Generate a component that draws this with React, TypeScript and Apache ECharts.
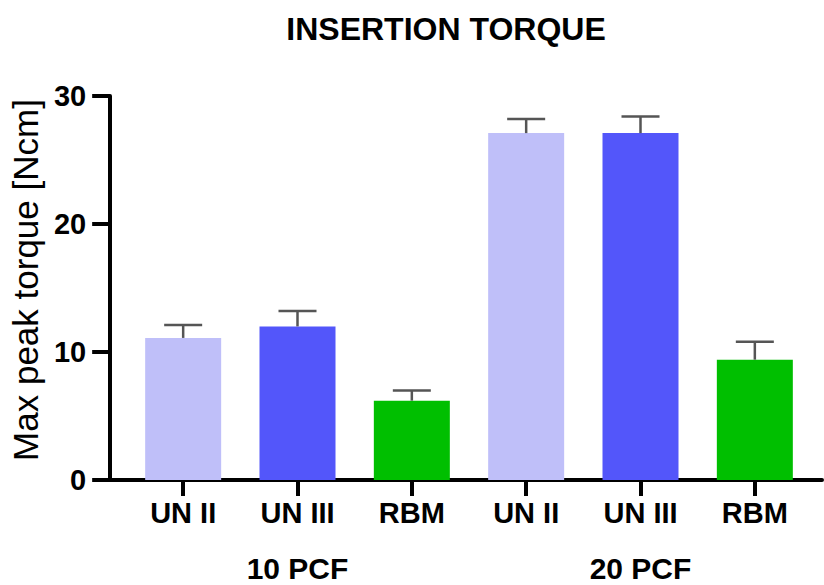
import React, { useEffect, useRef } from "react";
import * as echarts from "echarts";

const categories = ["UN II", "UN III", "RBM", "UN II", "UN III", "RBM"];
const groupLabels = ["", "10 PCF", "", "", "20 PCF", ""];
const means = [11.1, 12.0, 6.2, 27.1, 27.1, 9.4];
const errors = [1.0, 1.2, 0.8, 1.1, 1.3, 1.4];
const yTicks = { min: 0, max: 30, interval: 10 };

const palette = ["#BFBFF9", "#5356FA", "#00BF00", "#BFBFF9", "#5356FA", "#00BF00"];
const FONT = "'Liberation Sans', Arial, Helvetica, sans-serif";

export default function App() {
  const ref = useRef<HTMLDivElement>(null);
  useEffect(() => {
    if (!ref.current) return;
    const chart = echarts.init(ref.current, null, { renderer: "svg" });
    const option: any = {
      animation: false,
      backgroundColor: "#ffffff",
      title: {
        text: "INSERTION TORQUE",
        left: 446,
        top: 13,
        textAlign: "center",
        padding: 0,
        textStyle: { fontFamily: FONT, fontWeight: "bold", fontSize: 32, color: "#000" },
      },
      grid: [
        { left: 126, right: 12, top: 96, bottom: 105 },
        { left: 108, right: 2, top: 96, bottom: 105 },
      ],
      xAxis: [
        {
          type: "category",
          gridIndex: 0,
          data: categories,
          axisLine: { show: false },
          axisTick: { show: true, alignWithLabel: true, length: 16, lineStyle: { color: "#000", width: 4 } },
          axisLabel: {
            interval: 0,
            margin: 18,
            fontFamily: FONT,
            fontWeight: "bold",
            fontSize: 29,
            color: "#000",
          },
        },
        {
          type: "category",
          gridIndex: 0,
          position: "bottom",
          data: groupLabels,
          axisLine: { show: false },
          axisTick: { show: false },
          axisLabel: {
            interval: 0,
            margin: 73,
            fontFamily: FONT,
            fontWeight: "bold",
            fontSize: 30,
            lineHeight: 30,
            color: "#000",
          },
        },
        {
          type: "value",
          gridIndex: 1,
          min: 0,
          max: 1,
          axisLine: { show: true, onZero: false, lineStyle: { color: "#000", width: 4 } },
          axisTick: { show: false },
          axisLabel: { show: false },
          splitLine: { show: false },
        },
      ],
      yAxis: [
        {
          type: "value",
          gridIndex: 0,
          min: yTicks.min,
          max: yTicks.max,
          interval: yTicks.interval,
          show: false,
        },
        {
          type: "value",
          gridIndex: 1,
          min: yTicks.min,
          max: yTicks.max,
          interval: yTicks.interval,
          name: "Max peak torque [Ncm]",
          nameLocation: "middle",
          nameRotate: 90,
          nameGap: 66,
          nameTextStyle: { fontFamily: FONT, fontSize: 35, color: "#000", padding: [0, 0, 0, 16] },
          axisLine: { show: true, onZero: false, lineStyle: { color: "#000", width: 4 } },
          axisTick: { show: true, length: 18, lineStyle: { color: "#000", width: 4 } },
          axisLabel: { margin: 24, fontFamily: FONT, fontWeight: "bold", fontSize: 29, color: "#000" },
          splitLine: { show: false },
        },
      ],
      series: [
        {
          type: "bar",
          xAxisIndex: 0,
          yAxisIndex: 0,
          barWidth: 76,
          data: means.map((v, i) => ({ value: v, itemStyle: { color: palette[i] } })),
        },
        {
          type: "custom",
          xAxisIndex: 0,
          yAxisIndex: 0,
          z: 3,
          data: means.map((v, i) => [i, v, v + errors[i]]),
          renderItem: (params: any, api: any) => {
            const idx = api.value(0);
            const base = api.coord([idx, api.value(1)]);
            const top = api.coord([idx, api.value(2)]);
            const half = 19;
            const style = { stroke: "#555555", lineWidth: 2.5 };
            return {
              type: "group",
              children: [
                { type: "line", shape: { x1: base[0], y1: base[1], x2: top[0], y2: top[1] }, style },
                { type: "line", shape: { x1: top[0] - half, y1: top[1], x2: top[0] + half, y2: top[1] }, style },
              ],
            };
          },
        },
      ],
    };
    chart.setOption(option);
    return () => chart.dispose();
  }, []);
  return (
    <div
      ref={ref}
      style={{ position: "fixed", left: 0, top: 0, width: 824, height: 585 }}
    />
  );
}
